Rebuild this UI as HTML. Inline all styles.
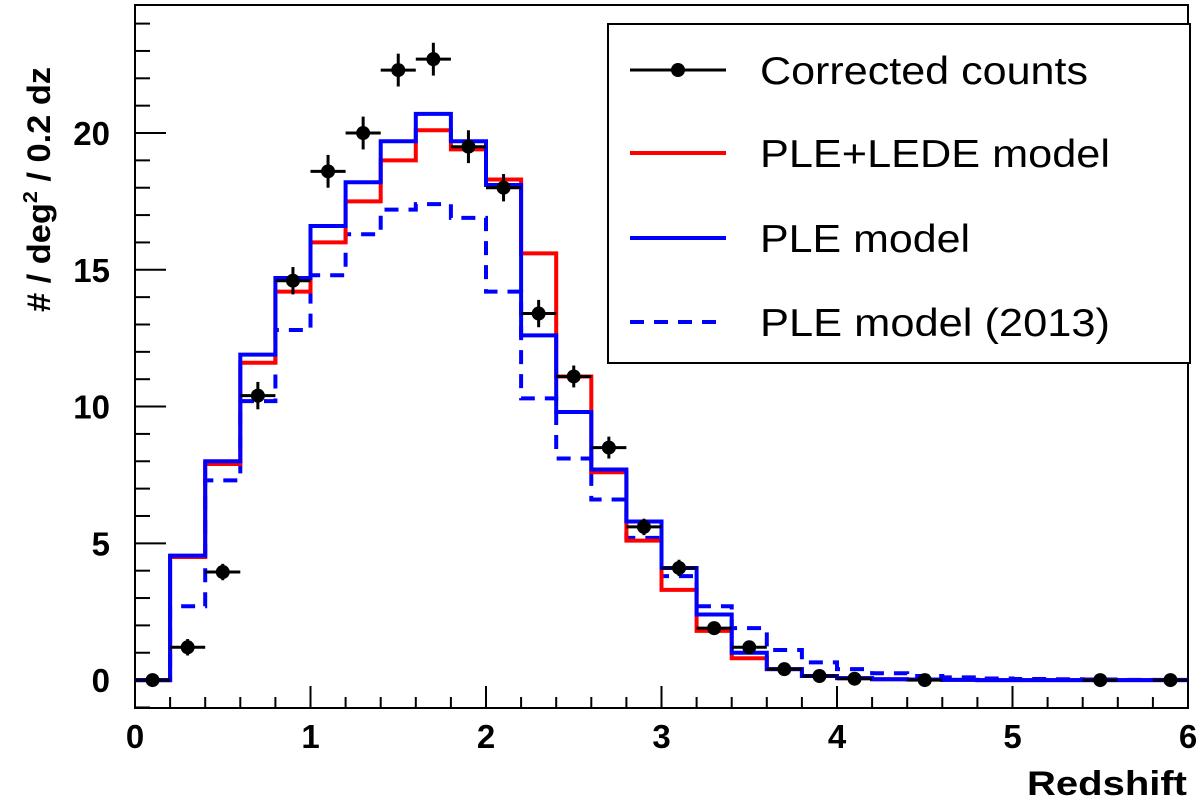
<!DOCTYPE html>
<html><head><meta charset="utf-8"><style>
body{margin:0;background:#fff}
svg{display:block;font-family:"Liberation Sans",Arial,sans-serif}
</style></head><body>
<svg id="c" width="1200" height="800"></svg>
<script>
const binEdges=[0,0.2,0.4,0.6,0.8,1.0,1.2,1.4,1.6,1.8,2.0,2.2,2.4,2.6,2.8,3.0,3.2,3.4,3.6,3.8,4.0,4.2,4.4,4.6,4.8,5.0,5.2,5.4,5.6,5.8,6.0];
const pleLede=[0,4.5,7.9,11.6,14.2,16.0,17.5,19.0,20.1,19.4,18.3,15.6,11.1,7.6,5.1,3.3,1.8,0.8,0.4,0.15,0.07,0.03,0.02,0.01,0,0,0,0,0,0];
const ple=[0,4.55,8.0,11.9,14.7,16.6,18.2,19.7,20.7,19.7,18.1,12.6,9.8,7.7,5.8,4.1,2.4,1.0,0.4,0.15,0.07,0.03,0.02,0.01,0,0,0,0,0,0];
const ple2013=[0,2.7,7.3,10.2,12.8,14.8,16.3,17.2,17.4,16.9,14.2,10.3,8.1,6.6,5.2,3.8,2.7,1.9,1.1,0.65,0.4,0.25,0.15,0.1,0.06,0.04,0.03,0.02,0.01,0.01];
const ptX=[0.1,0.3,0.5,0.7,0.9,1.1,1.3,1.5,1.7,1.9,2.1,2.3,2.5,2.7,2.9,3.1,3.3,3.5,3.7,3.9,4.1,4.5,5.5,5.9];
const ptY=[0,1.2,3.95,10.4,14.6,18.6,20.0,22.3,22.7,19.5,18.0,13.4,11.1,8.5,5.6,4.1,1.9,1.2,0.4,0.15,0.05,0,0,0];
const ptErr=[0,0.3,0.3,0.5,0.5,0.6,0.6,0.6,0.6,0.6,0.5,0.5,0.4,0.4,0.3,0.3,0.2,0.2,0.1,0.1,0.05,0,0,0];
const xTicks=[0,1,2,3,4,5,6];
const yTicks=[0,5,10,15,20];
const legendLabels=["Corrected counts","PLE+LEDE model","PLE model","PLE model (2013)"];
const legendWidths=[328,350,210,350];

const L=135,R=1188,T=5,B=708,Y0=-1.02,Y1=24.68;
const sx=v=>L+(v-0)/(6-0)*(R-L);
const sy=v=>B-(v-Y0)/(Y1-Y0)*(B-T);
const svg=document.getElementById('c');const NS='http://www.w3.org/2000/svg';
function mk(tag,attrs,parent){const e=document.createElementNS(NS,tag);for(const k in attrs)e.setAttribute(k,attrs[k]);(parent||svg).appendChild(e);return e;}

const frame=mk('rect',{x:L,y:T,width:R-L,height:B-T,fill:'none',stroke:'#000','stroke-width':2});



for(let i=0;i<=30;i++){const v=i*0.2,x=sx(v),major=i%5===0;
 const t=mk('line',{x1:x,x2:x,y1:B,y2:B-(major?22:11),stroke:'#000','stroke-width':2});
 
 }
for(let v=-1;v<=24;v++){const y=sy(v),major=v%5===0;
 const t=mk('line',{x1:L,x2:L+(major?31:15),y1:y,y2:y,stroke:'#000','stroke-width':2});
 
 }
xTicks.forEach(v=>{const t=mk('text',{x:sx(v),y:748,'text-anchor':'middle','font-size':33,'font-weight':'bold'});t.textContent=v;
 
 });
yTicks.forEach(v=>{const t=mk('text',{x:110,y:sy(v)+12,'text-anchor':'end','font-size':33,'font-weight':'bold'});t.textContent=v;
 
 });
const xt=mk('text',{x:1027,y:795,'font-size':34,'font-weight':'bold',textLength:160,lengthAdjust:'spacingAndGlyphs'});xt.textContent='Redshift';


const yt=mk('text',{transform:'translate(50,312) rotate(-90)','font-size':32,'font-weight':'bold',textLength:245,lengthAdjust:'spacingAndGlyphs'});
yt.innerHTML='# / deg<tspan dy="-13" font-size="20">2</tspan><tspan dy="13"> / 0.2 dz</tspan>';



function hist(vals,color,dash,name){let d='';for(let i=0;i<vals.length;i++){const x0=sx(binEdges[i]),x1=sx(binEdges[i+1]),y=sy(vals[i]);d+=(i===0?'M':'L')+x0+','+y+'L'+x1+','+y;}
 const p=mk('path',{d:d,fill:'none',stroke:color,'stroke-width':4,'stroke-dasharray':dash||'none'});
 
 }
hist(ple2013,'#0000ff','14,10','ple-2013-histogram');
hist(pleLede,'#ff0000','','ple-lede-histogram');
hist(ple,'#0000ff','','ple-histogram');

ptX.forEach((xv,i)=>{const g=mk('g',{});
 
 
 const x=sx(xv),y=sy(ptY[i]);
 mk('line',{x1:sx(xv-0.1),x2:sx(xv+0.1),y1:y,y2:y,stroke:'#000','stroke-width':3},g);
 if(ptErr[i]>0.15)mk('line',{x1:x,x2:x,y1:sy(ptY[i]-ptErr[i]),y2:sy(ptY[i]+ptErr[i]),stroke:'#000','stroke-width':3},g);
 mk('circle',{cx:x,cy:y,r:7,fill:'#000'},g);});

const lg=mk('g',{});


mk('rect',{x:608,y:24,width:582,height:339,fill:'#fff',stroke:'#000','stroke-width':2},lg);
const ly=[70,153,238,322];
const styles=[['#000',''],['#ff0000',''],['#0000ff',''],['#0000ff','14,10']];
legendLabels.forEach((lab,i)=>{const e=mk('g',{},lg);
 
 
 mk('line',{x1:630,x2:726,y1:ly[i],y2:ly[i],stroke:styles[i][0],'stroke-width':i===0?3:4,'stroke-dasharray':styles[i][1]||'none'},e);
 if(i===0)mk('circle',{cx:678,cy:ly[i],r:7,fill:'#000'},e);
 const t=mk('text',{x:760,y:ly[i]+14,'font-size':39,textLength:legendWidths[i],lengthAdjust:'spacingAndGlyphs'},e);t.textContent=lab;});
</script>
</body></html>
